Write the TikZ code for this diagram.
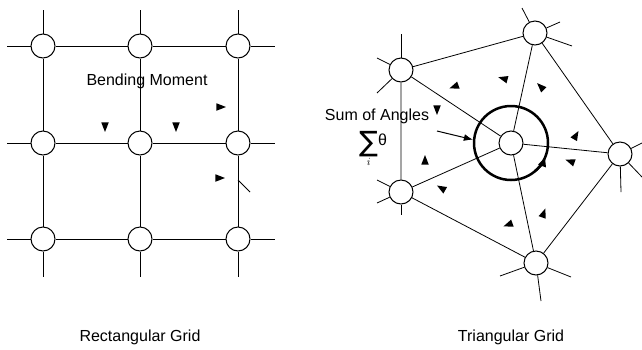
\documentclass[tikz,border=0pt]{standalone}
\usepackage{fontspec}
\setmainfont{Liberation Sans}
\newfontfamily\sigmafont{DejaVu Sans}
\usetikzlibrary{positioning, arrows.meta, shapes.geometric, calc}

\tikzset{
  joint/.style={circle, draw, fill=white, minimum size=24pt, inner sep=0pt, line width=1pt},
  member/.style={line width=1pt},
  thinmember/.style={line width=0.8pt},
  wedge/.style={isosceles triangle, isosceles triangle stretches, fill, draw=none,
                inner sep=0pt, minimum height=9.5pt, minimum width=7.5pt},
  ringline/.style={line width=2.5pt},
  lbl/.style={font=\fontsize{16}{18}\selectfont},
}

\begin{document}
\begin{tikzpicture}[x=1pt, y=-1pt]
        \useasboundingbox (0,0) rectangle (642,349);
        % rectangular grid: 3x3 joints
        \foreach \col/\x in {1/43,2/140,3/238}{
          \foreach \row/\y in {1/46,2/143,3/239}{
            \node[joint] (r\row\col) at (\x,\y) {};
          }
        }
        \foreach \row/\y in {1/46,2/143,3/239}{
          \coordinate (rw\row) at (7,\y);
          \coordinate (re\row) at (275,\y);
          \draw[member] (rw\row) -- (r\row1) -- (r\row2) -- (r\row3) -- (re\row);
        }
        \foreach \col/\x in {1/43,2/140,3/238}{
          \coordinate (rn\col) at (\x,10);
          \coordinate (rs\col) at (\x,277);
          \draw[member] (rn\col) -- (r1\col) -- (r2\col) -- (r3\col) -- (rs\col);
        }
        % moment marks
        \foreach \i/\x/\y/\a in {1/105/125/-90, 2/176/125/-90, 3/219/107/0, 4/218/178/0}{
          \node[wedge, rotate=\a] (rm\i) at (\x,\y) {};
        }
        \coordinate (k1) at (238,180);
        \coordinate (k2) at (250,192);
        \draw[member] (k1) -- (k2);
        \node[lbl] (bend) at (147,81) {Bending Moment};
        \node[lbl] (rlab) at (140,337) {Rectangular Grid};

        % triangular grid: centre joint and five neighbours
        \node[joint] (c)  at (511,143) {};
        \node[joint] (t)  at (535,33)  {};
        \node[joint] (ul) at (401,70)  {};
        \node[joint] (ll) at (401,192) {};
        \node[joint] (rt) at (620,154) {};
        \node[joint] (b)  at (536,263) {};
        \draw[thinmember] (t) -- (ul) -- (ll) -- (b) -- (rt) -- (t);
        \foreach \n in {t,ul,ll,rt,b}{
          \draw[thinmember] (c) -- (\n);
        }
        % free spokes
        \foreach \i/\n/\x/\y in {1/t/522/8, 2/t/560/22, 3/t/572/46,
                                 4/ul/401/34, 5/ul/377/58, 6/ul/377/93,
                                 7/ll/377/180, 8/ll/377/203, 9/ll/401/215,
                                 10/rt/642/143, 11/rt/642/177, 12/rt/621/192,
                                 13/b/500/276, 14/b/571/277, 15/b/541/301}{
          \coordinate (s\i) at (\x,\y);
          \draw[thinmember] (\n) -- (s\i);
        }
        % angle marks
        \foreach \i/\x/\y/\a in {1/456/86/200, 2/505/79/165, 3/542/88/135,
                                 4/437/108/-90, 5/575/137/60, 6/425/162/90,
                                 7/572/162/160, 8/443/189/150, 9/510/224/200,
                                 10/543/215/70}{
          \node[wedge, rotate=\a] (tm\i) at (\x,\y) {};
        }
        % sum of angles ring
        \node[circle, draw, ringline, minimum size=74pt, inner sep=0pt] (ring) at (511,143) {};
        \draw[ringline, -{Latex[length=11pt, width=9pt]}]
              ([shift={(50:37)}]c.center) arc[start angle=50, end angle=20, radius=37];
        \coordinate (sa) at (437,131);
        \draw[member, -{Latex[length=9pt, width=7pt]}] (sa) -- (ring.175);
        \node[lbl, inner sep=0pt] (sum) at (377,116) {Sum of Angles};
        \node[lbl, anchor=base west, inner sep=0pt] (sig) at (359,151)
              {$\displaystyle\mathop{\hbox{\sigmafont\fontsize{28}{29}\selectfont ∑}}\limits_{i}$\raisebox{6pt}{θ}};
        \node[lbl] (tlab) at (511,337) {Triangular Grid};
\end{tikzpicture}
\end{document}
